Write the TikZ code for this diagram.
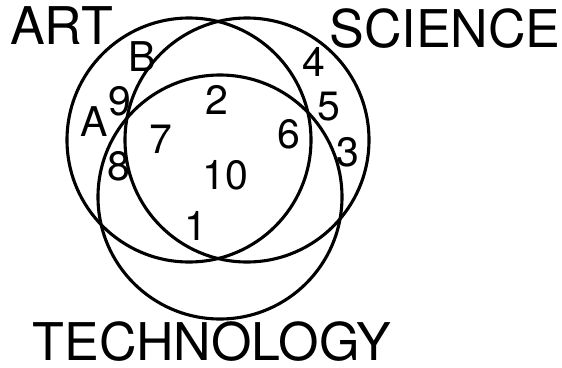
\documentclass[tikz,border=0pt]{standalone}
\usepackage{fontspec}
\setmainfont{TeX Gyre Heros}
\begin{document}
\begin{tikzpicture}[x=1pt,y=-1pt,
  ring/.style={draw=black,line width=3.1pt},
  biglabel/.style={inner sep=0pt,font=\fontsize{52}{52}\selectfont},
  numlabel/.style={inner sep=0pt,font=\fontsize{41}{41}\selectfont}]
\useasboundingbox (0,0) rectangle (562,367);
% circles
\coordinate (artc) at (189,140);
\coordinate (scic) at (247,140);
\coordinate (tecc) at (220,197);
\draw[ring] (artc) circle[radius=122];
\draw[ring] (scic) circle[radius=122];
\draw[ring] (tecc) circle[radius=122];
% big labels
\node[biglabel] (art) at (61.5,26) {ART};
\node[biglabel] (sci) at (445,28.5) {SCIENCE};
\node[biglabel] (tec) at (212,342) {TECHNOLOGY};
% small labels
\node[numlabel] (lA) at (94,122) {A};
\node[numlabel] (lB) at (142,57) {B};
\node[numlabel] (n9) at (120,101) {9};
\node[numlabel] (n8) at (119,166) {8};
\node[numlabel] (n7) at (161,139) {7};
\node[numlabel] (n2) at (217,100) {2};
\node[numlabel] (n6) at (289,134) {6};
\node[numlabel] (n10) at (225,175) {10};
\node[numlabel] (n1) at (196,226) {1};
\node[numlabel] (n4) at (314,62) {4};
\node[numlabel] (n5) at (329,107) {5};
\node[numlabel] (n3) at (348,152) {3};
\end{tikzpicture}
\end{document}
